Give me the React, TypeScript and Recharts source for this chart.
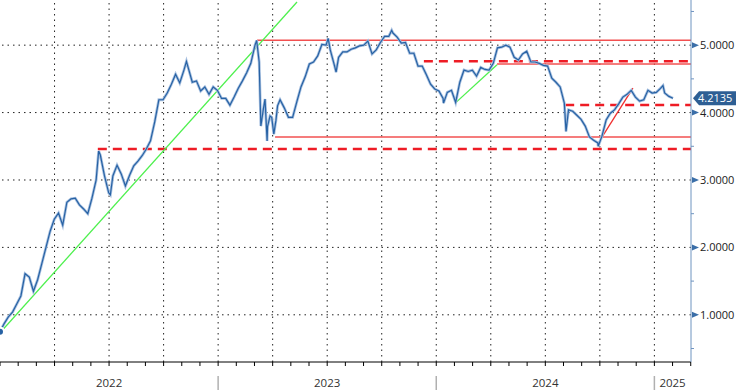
import React from 'react';
import { LineChart, Line, XAxis, YAxis, ReferenceLine } from 'recharts';

// weekly closes, index = weeks since the first week of 2022
const weeklyYield = [
  0.75, 0.87, 0.97, 1.04, 1.16, 1.28, 1.61, 1.56, 1.35, 1.52,
  1.76, 2.0, 2.24, 2.42, 2.51, 2.33, 2.67, 2.72, 2.73, 2.63,
  2.57, 2.5, 2.73, 3.0, 3.37, 3.06, 2.81, 3.06, 3.22, 3.09,
  2.91, 3.07, 3.21, 3.28, 3.36, 3.46, 3.58, 3.86, 4.19, 4.19,
  4.29, 4.42, 4.57, 4.44, 4.63, 4.67, 4.45, 4.47, 4.32, 4.38,
  4.27, 4.38, 4.33, 4.21, 4.21, 4.11, 4.23, 4.36, 4.47, 4.59,
  4.73, 5.0, 4.75, 4.05, 3.79, 3.93, 3.88, 4.19, 4.07, 3.93,
  3.93, 4.16, 4.38, 4.53, 4.72, 4.75, 4.84, 5.01, 5.0, 4.93,
  4.7, 4.82, 4.9, 4.9, 4.94, 4.96, 4.99, 5.0, 5.06, 4.87,
  4.93, 5.04, 5.13, 5.13, 5.18, 5.12, 5.03, 5.04, 4.88, 4.88,
  4.69, 4.69, 4.56, 4.42, 4.35, 4.32, 4.21, 4.3, 4.33, 4.15,
  4.45, 4.63, 4.61, 4.63, 4.54, 4.67, 4.64, 4.63, 4.73, 4.96,
  4.97, 5.0, 4.97, 4.82, 4.78, 4.87, 4.91, 4.75, 4.75, 4.73,
  4.7, 4.69, 4.51, 4.45, 4.38, 4.14, 4.04, 4.02, 3.96, 3.9,
  3.8, 3.64, 3.59, 3.55, 3.65, 3.89, 3.99, 4.04, 4.13, 4.23,
  4.27, 4.33, 4.23, 4.17, 4.19, 4.33, 4.29, 4.3, 4.36, 4.29,
  4.24, 4.2135,
];

// intraweek highs / lows that stick out of the weekly closes
const spikeWeeks = [
  23.6, 26.4, 44.6, 61.4, 62.4, 63.4, 63.9, 64.6, 65.5, 66.4,
  78.5, 80.4, 93.7, 106.1, 135.4, 143.1, 158.6,
];
const spikeYields = [
  3.43, 2.78, 4.76, 5.07, 3.8, 4.2, 3.58, 3.95, 3.68, 4.1,
  5.1, 4.6, 5.22, 4.14, 3.72, 3.5, 4.4,
];

const lastYield = 4.2135;

// horizontal levels: [startWeek, level]
const solidLevels = [[61.5, 5.074], [65.8, 3.637], [118.9, 4.72]];
const dashedLevels = [[23.4, 3.459], [101.4, 4.763], [135.2, 4.111]];

// trend lines: [x1, y1, x2, y2]
const greenTrends = [[0, 0.733, 71.05, 5.64], [108.9, 4.14, 118.9, 4.71]];
const redTrends = [[144, 3.637, 151.4, 4.363]];

const yearLabels = ['2022', '2023', '2024', '2025'];
const yearLabelMonths = [6, 18, 30, 37];
const separatorMonths = [12, 24, 36];

const WEEKS_PER_MONTH = 52.18 / 12;
const X_MAX = 165.3;
const Y_MIN = 0.3;
const Y_MAX = 5.67;

const data = [
  ...weeklyYield.map((v, i) => ({ week: i, value: v })),
  ...spikeWeeks.map((w, i) => ({ week: w, value: spikeYields[i] })),
].sort((a, b) => a.week - b.week);

const monthTicks = Array.from({ length: 39 }, (_, m) => m * WEEKS_PER_MONTH);
const quarterLines = Array.from({ length: 12 }, (_, q) => (q + 1) * 3 * WEEKS_PER_MONTH);
const priceTicks = [0.5, 1, 1.5, 2, 2.5, 3, 3.5, 4, 4.5, 5, 5.5, lastYield];
const gridLevels = [1, 2, 3, 4, 5];

const FONT = '"Open Sans", "Liberation Sans", sans-serif';

const MonthTick = (props: any) => {
  const { x, y, payload } = props;
  const m = Math.round(payload.value / WEEKS_PER_MONTH);
  const labelIdx = yearLabelMonths.indexOf(m);
  return (
    <g>
      <line x1={x} y1={y} x2={x} y2={y + 4} stroke="#000" />
      {separatorMonths.includes(m) && (
        <line x1={x} y1={y + 14} x2={x} y2={y + 28} stroke="#b0b0b0" strokeWidth={1.5} />
      )}
      {labelIdx >= 0 && (
        <text x={x} y={y + 25} textAnchor="middle" fontSize={11.5} fontFamily={FONT} fill="#333">
          {yearLabels[labelIdx]}
        </text>
      )}
    </g>
  );
};

const PriceTick = (props: any) => {
  const { x, y, payload } = props;
  const v = payload.value;
  if (v === lastYield) {
    return (
      <g>
        <polygon
          points={`${x + 2},${y} ${x + 8},${y - 7} ${x + 45},${y - 7} ${x + 45},${y + 7} ${x + 8},${y + 7}`}
          fill="#2e5f94"
        />
        <text x={x + 7} y={y + 4} fontSize={11} fontFamily={FONT} fill="#fff">
          {v.toFixed(4)}
        </text>
      </g>
    );
  }
  if (Number.isInteger(v)) {
    return (
      <g>
        <polygon points={`${x + 1},${y - 3} ${x + 8},${y} ${x + 1},${y + 3}`} fill="#3a6ea8" />
        <text x={x + 9} y={y + 4} fontSize={11} fontFamily={FONT} fill="#222">
          {v.toFixed(4)}
        </text>
      </g>
    );
  }
  return <line x1={x} y1={y} x2={x + 3} y2={y} stroke="#6f94c0" />;
};

export default function App() {
  return (
    <div style={{ width: 736, height: 390, background: '#fff' }}>
      <style>{'body{margin:0}'}</style>
      <LineChart width={736} height={390} data={data} margin={{ top: 0, right: 0, left: 0, bottom: 0 }}>
        <XAxis
          dataKey="week"
          type="number"
          domain={[0, X_MAX]}
          ticks={monthTicks}
          interval={0}
          tick={<MonthTick />}
          tickLine={false}
          tickSize={0}
          tickMargin={0}
          height={28}
          axisLine={{ stroke: '#000' }}
          allowDataOverflow
        />
        <YAxis
          orientation="right"
          type="number"
          domain={[Y_MIN, Y_MAX]}
          ticks={priceTicks}
          interval={0}
          tick={<PriceTick />}
          tickLine={false}
          tickSize={0}
          tickMargin={0}
          width={45}
          axisLine={{ stroke: '#6f94c0' }}
          allowDataOverflow
        />
        {gridLevels.map((v) => (
          <ReferenceLine key={'h' + v} y={v} stroke="#222" strokeDasharray="1.5 4" />
        ))}
        {quarterLines.map((w) => (
          <ReferenceLine key={'v' + w} x={w} stroke="#222" strokeDasharray="1.5 4" />
        ))}
        {solidLevels.map(([w, v]) => (
          <ReferenceLine
            key={'s' + v}
            segment={[{ x: w, y: v }, { x: X_MAX, y: v }]}
            stroke="#f25050"
            strokeWidth={1.6}
          />
        ))}
        {dashedLevels.map(([w, v]) => (
          <ReferenceLine
            key={'d' + v}
            segment={[{ x: w, y: v }, { x: X_MAX, y: v }]}
            stroke="#ee1c25"
            strokeWidth={2.5}
            strokeDasharray="9 6"
          />
        ))}
        {greenTrends.map(([x1, y1, x2, y2]) => (
          <ReferenceLine
            key={'g' + x1}
            segment={[{ x: x1, y: y1 }, { x: x2, y: y2 }]}
            stroke="#4ef04e"
            strokeWidth={1.3}
          />
        ))}
        {redTrends.map(([x1, y1, x2, y2]) => (
          <ReferenceLine
            key={'r' + x1}
            segment={[{ x: x1, y: y1 }, { x: x2, y: y2 }]}
            stroke="#f03030"
            strokeWidth={1.3}
          />
        ))}
        <Line
          type="linear"
          dataKey="value"
          stroke="#a9c1e0"
          strokeWidth={2.8}
          dot={false}
          isAnimationActive={false}
        />
        <Line
          type="linear"
          dataKey="value"
          stroke="#2762a4"
          strokeWidth={1.2}
          dot={false}
          isAnimationActive={false}
        />
      </LineChart>
    </div>
  );
}
